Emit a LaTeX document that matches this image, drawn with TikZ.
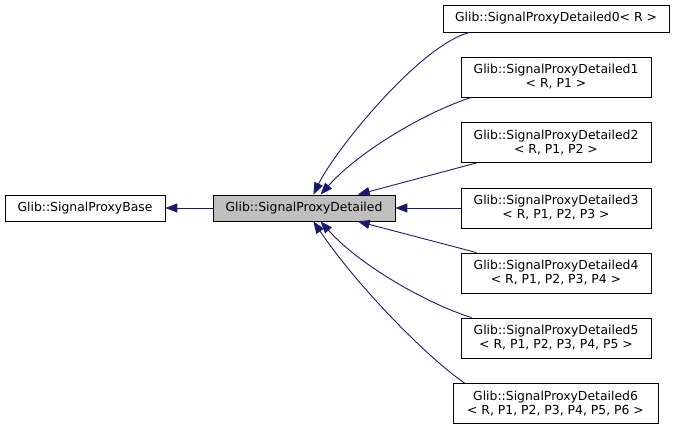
\documentclass[tikz,border=0pt]{standalone}
\usepackage{fontspec}
\setmainfont{DejaVu Sans}
\usetikzlibrary{arrows.meta,positioning}
\definecolor{edgeblue}{RGB}{25,25,112}
\definecolor{boxgray}{RGB}{191,191,191}

\begin{document}
\begin{tikzpicture}[x=1pt,y=-1pt,
  cls/.style={rectangle,draw=black,fill=white,line width=0.8pt,inner sep=0pt,align=center,font=\fontsize{12.4}{14}\selectfont},
  tmpl/.style={cls,minimum width=190pt,minimum height=40pt},
  inherit/.style={draw=edgeblue,line width=0.9pt,-{Triangle[length=12pt,width=9pt]}}]
\useasboundingbox (0,0) rectangle (675,430);
% Base classes
\node[cls,minimum width=160pt,minimum height=26pt] (base) at (85,208) {Glib::SignalProxyBase};
\node[cls,fill=boxgray,minimum width=182pt,minimum height=26pt] (det) at (304,208) {Glib::SignalProxyDetailed};

% Derived templates
\node[cls,minimum width=226pt,minimum height=27pt] (d0) at (556,18.5) {Glib::SignalProxyDetailed0< R >};
\node[tmpl] (d1) at (556,77) {Glib::SignalProxyDetailed1\\< R, P1 >};
\node[tmpl] (d2) at (556,142.5) {Glib::SignalProxyDetailed2\\< R, P1, P2 >};
\node[tmpl] (d3) at (556,208) {Glib::SignalProxyDetailed3\\< R, P1, P2, P3 >};
\node[tmpl] (d4) at (556,273) {Glib::SignalProxyDetailed4\\< R, P1, P2, P3, P4 >};
\node[tmpl] (d5) at (556,338) {Glib::SignalProxyDetailed5\\< R, P1, P2, P3, P4, P5 >};
\node[tmpl,minimum width=205pt] (d6) at (555.5,403.5) {Glib::SignalProxyDetailed6\\< R, P1, P2, P3, P4, P5, P6 >};

% Inheritance
\draw[inherit] (det) -- (base);
\draw[inherit] ([xshift=27pt]d0.south west) .. controls +(-50,13) and +(22,-45) .. (det.55);
\draw[inherit] ([xshift=11pt]d1.south west) .. controls +(-42,13) and +(40,-45) .. (det.39);
\draw[inherit] ([xshift=16pt]d2.south west) -- (det.14);
\draw[inherit] (d3) -- (det);
\draw[inherit] ([xshift=16pt]d4.north west) -- (det.-14);
\draw[inherit] ([xshift=11pt]d5.north west) .. controls +(-42,-13) and +(40,45) .. (det.-39);
\draw[inherit] ([xshift=12pt]d6.north west) .. controls +(-35,-24) and +(47,69) .. (det.-55);
\end{tikzpicture}
\end{document}
